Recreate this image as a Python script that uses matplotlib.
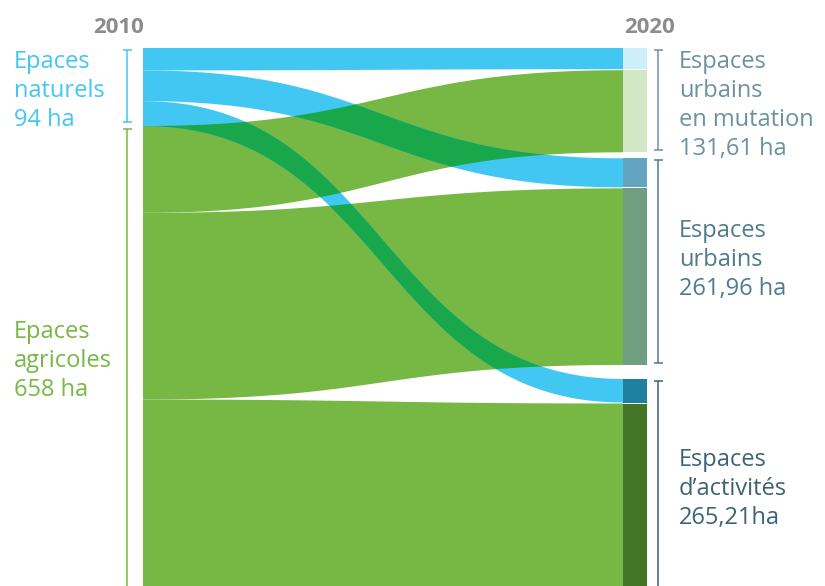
import numpy as np
import matplotlib.pyplot as plt
from matplotlib.patches import Polygon, Rectangle

# --- data (ha) ---
sources = ["Epaces naturels", "Epaces agricoles"]
source_totals = [94, 658]
targets = ["Espaces urbains en mutation", "Espaces urbains", "Espaces d'activités"]
target_totals = [131.61, 261.96, 265.21]
# flows[source][target]
flows_naturels = [27, 37, 30]
flows_agricoles = [104.61, 224.96, 235.21]

years = ["2010", "2020"]
left_labels = [["Epaces", "naturels", "94 ha"], ["Epaces", "agricoles", "658 ha"]]
right_labels = [["Espaces", "urbains", "en mutation", "131,61 ha"],
                ["Espaces", "urbains", "261,96 ha"],
                ["Espaces", "d\u2019activités", "265,21ha"]]

# --- style / layout ---
BLUE = "#42c7f3"
GREEN = "#76b843"
OVERLAP = "#19a74b"
BAR_COLORS = [["#cdeefb", "#d4e7c4"], ["#63a5c1", "#6f9e81"], ["#1f7f9f", "#427526"]]
RIGHT_TEXT = ["#6c91a3", "#4f7b8f", "#3b6377"]
GREY = "#8c8c8c"

X_L, X_R, BAR_W = 143, 623, 24
Y_TOP = 48
SCALE_L, SCALE_R = 0.83, 0.785
NODE_GAPS_R = [6, 14]
FLOW_GAP = 1

fig = plt.figure(figsize=(8.25, 5.86), dpi=100)
ax = fig.add_axes([0, 0, 1, 1])
ax.set_xlim(0, 825)
ax.set_ylim(586, 0)
ax.axis("off")


def edge(x0, y0, x1, y1, n=120):
    t = np.linspace(0, 1, n)
    dx = x1 - x0
    px = [x0, x0 + 0.5 * dx, x1 - 0.5 * dx, x1]
    py = [y0, y0, y1, y1]
    b = [(1 - t) ** 3, 3 * t * (1 - t) ** 2, 3 * t ** 2 * (1 - t), t ** 3]
    return sum(b[i] * px[i] for i in range(4)), sum(b[i] * py[i] for i in range(4))


flows = [flows_naturels, flows_agricoles]

# left stacking
left_pos = {}
y = Y_TOP
src_extent = []
for s in range(2):
    top = y
    for t in range(3):
        h = flows[s][t] * SCALE_L
        left_pos[(s, t)] = (y, y + h)
        y += h
    src_extent.append((top, top + source_totals[s] * SCALE_L))
    y = top + source_totals[s] * SCALE_L

# right stacking
right_pos = {}
tgt_extent = []
y = Y_TOP
for t in range(3):
    top = y
    for s in range(2):
        h = flows[s][t] * SCALE_R
        right_pos[(s, t)] = (y, y + h)
        y += h + (FLOW_GAP if s == 0 else 0)
    tgt_extent.append((top, y))
    if t < 2:
        y += NODE_GAPS_R[t]


def flow_poly(s, t):
    (l0, l1), (r0, r1) = left_pos[(s, t)], right_pos[(s, t)]
    xt, yt = edge(X_L, l0, X_R, r0)
    xb, yb = edge(X_L, l1, X_R, r1)
    xs = np.concatenate([xt, xb[::-1]])
    ys = np.concatenate([yt, yb[::-1]])
    return np.column_stack([xs, ys])


green_patches = []
for t in range(3):
    p = Polygon(flow_poly(1, t), closed=True, facecolor=GREEN, edgecolor="none")
    ax.add_patch(p)
    green_patches.append(p)

for t in range(3):
    verts = flow_poly(0, t)
    ax.add_patch(Polygon(verts, closed=True, facecolor=BLUE, edgecolor="none"))
    for gp in green_patches:
        ov = Polygon(verts, closed=True, facecolor=OVERLAP, edgecolor="none")
        ax.add_patch(ov)
        ov.set_clip_path(gp)

# right bars
for t in range(3):
    for s in range(2):
        y0, y1 = right_pos[(s, t)]
        ax.add_patch(Rectangle((X_R, y0), BAR_W, y1 - y0, facecolor=BAR_COLORS[t][s], edgecolor="none"))


def bracket(x, y0, y1, color, cap=4.5):
    ax.plot([x, x], [y0, y1], color=color, lw=1.1, solid_capstyle="butt")
    for yy in (y0, y1):
        ax.plot([x - cap, x + cap], [yy, yy], color=color, lw=1.1, solid_capstyle="butt")


src_colors = [BLUE, GREEN]
bracket(127, src_extent[0][0] + 2, src_extent[0][1] - 4, src_colors[0])
bracket(127, src_extent[1][0] + 3, src_extent[1][1], src_colors[1])
for t in range(3):
    bottom = tgt_extent[t][1] - 2 if t < 2 else tgt_extent[t][1] + 2
    bracket(658, tgt_extent[t][0] + 2, bottom, RIGHT_TEXT[t])

FONT = "Open Sans"
ax.text(119, 33, years[0], ha="center", va="baseline", fontsize=16, fontweight="bold", color=GREY, family=FONT)
ax.text(650, 33, years[1], ha="center", va="baseline", fontsize=16, fontweight="bold", color=GREY, family=FONT)

LINE = 29
left_base = [68, 338]
for s in range(2):
    for i, line in enumerate(left_labels[s]):
        fam = FONT
        if s == 0 and i == 2:
            fam = ["Liberation Sans Narrow", FONT]
        ax.text(14, left_base[s] + i * LINE, line, ha="left", va="baseline", fontsize=17,
                color=src_colors[s], family=fam)

right_base = [68, 237, 466]
for t in range(3):
    for i, line in enumerate(right_labels[t]):
        ax.text(679, right_base[t] + i * LINE, line, ha="left", va="baseline", fontsize=17,
                color=RIGHT_TEXT[t], family=FONT)

fig.savefig("out.png", dpi=100)
